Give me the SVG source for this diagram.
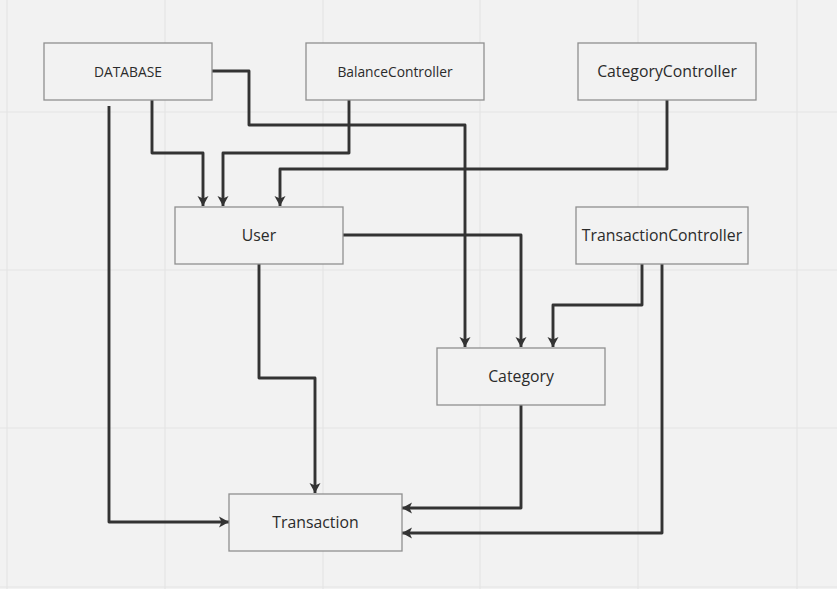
<svg xmlns="http://www.w3.org/2000/svg" width="837" height="589" viewBox="0 0 837 589">
<defs>
<style>
.bg{fill:#f2f2f2}
.grid{stroke:#e4e4e4;stroke-width:1.2}
.box{fill:#f2f2f2;stroke:#8f8f8f;stroke-width:1.3}
.lbl{font-family:"Open Sans","Noto Sans",sans-serif;fill:#2b2b2b;text-anchor:middle;dominant-baseline:central}
.big{font-size:15.8px}
.small{font-size:13.8px}
.c{fill:none;stroke:#333;stroke-width:2.9;stroke-linejoin:round;marker-end:url(#ah)}
</style>
<marker id="ah" markerUnits="userSpaceOnUse" markerWidth="13" markerHeight="13" viewBox="0 0 13 13" refX="11" refY="6.5" orient="auto">
<path d="M1,1 L11,6.5 L1,12 L3.5,6.5 z" fill="#333"/>
</marker>
</defs>
<rect class="bg" x="0" y="0" width="837" height="589"/>
<g id="grid">
<line class="grid" x1="7" y1="0" x2="7" y2="589"/>
<line class="grid" x1="165" y1="0" x2="165" y2="589"/>
<line class="grid" x1="323" y1="0" x2="323" y2="589"/>
<line class="grid" x1="480" y1="0" x2="480" y2="589"/>
<line class="grid" x1="638" y1="0" x2="638" y2="589"/>
<line class="grid" x1="797" y1="0" x2="797" y2="589"/>
<line class="grid" x1="0" y1="112" x2="837" y2="112"/>
<line class="grid" x1="0" y1="270" x2="837" y2="270"/>
<line class="grid" x1="0" y1="428" x2="837" y2="428"/>
<line class="grid" x1="0" y1="587" x2="837" y2="587"/>
</g>
<g id="connectors">
<path class="c" d="M109,106 V522 H229"/>
<path class="c" d="M152,100 V153 H203 V206"/>
<path class="c" d="M349,100 V153 H223 V206"/>
<path class="c" d="M212,71 H249 V125 H465 V347"/>
<path class="c" d="M667,100 V169 H280 V206"/>
<path class="c" d="M343,235 H521 V347"/>
<path class="c" d="M642,264 V305 H553 V347"/>
<path class="c" d="M662,264 V533 H402"/>
<path class="c" d="M259,264 V378 H315 V493"/>
<path class="c" d="M521,405 V508 H402"/>
</g>
<g id="database">
<rect class="box" x="44" y="43" width="168" height="57"/>
<text class="lbl small" x="128" y="71.5">DATABASE</text>
</g>
<g id="balancecontroller">
<rect class="box" x="306" y="43" width="178" height="57"/>
<text class="lbl small" x="395" y="71.5">BalanceController</text>
</g>
<g id="categorycontroller">
<rect class="box" x="578" y="43" width="178" height="57"/>
<text class="lbl big" x="667" y="71">CategoryController</text>
</g>
<g id="user">
<rect class="box" x="175" y="207" width="168" height="57"/>
<text class="lbl big" x="259" y="235">User</text>
</g>
<g id="transactioncontroller">
<rect class="box" x="576" y="207" width="172" height="57"/>
<text class="lbl big" x="662" y="235">TransactionController</text>
</g>
<g id="category">
<rect class="box" x="437" y="348" width="168" height="57"/>
<text class="lbl big" x="521" y="376">Category</text>
</g>
<g id="transaction">
<rect class="box" x="229" y="494" width="173" height="57"/>
<text class="lbl big" x="315.5" y="522">Transaction</text>
</g>
</svg>
